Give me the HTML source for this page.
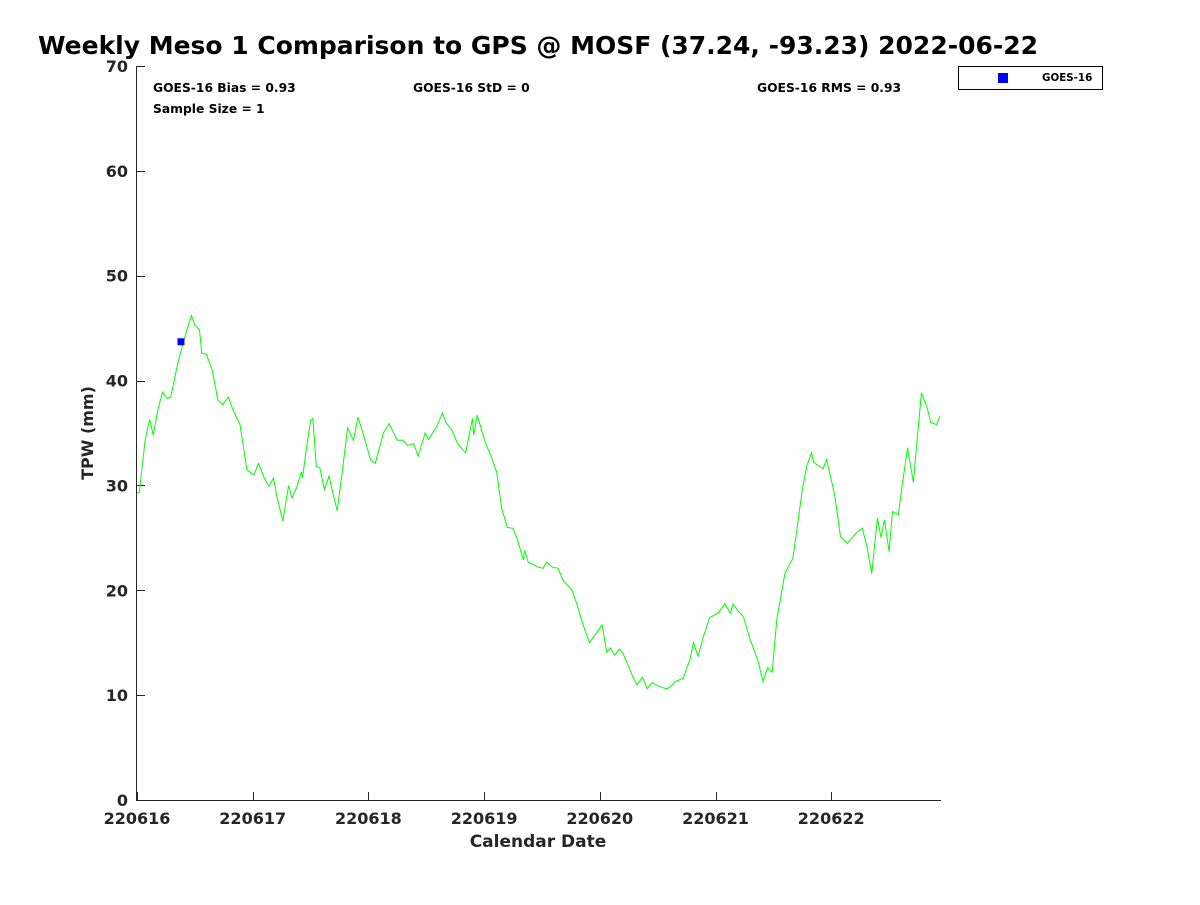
<!DOCTYPE html>
<html><head><meta charset="utf-8"><style>
body{margin:0;background:#fff;}
svg{font-family:"DejaVu Sans","Liberation Sans",sans-serif;}
</style></head><body>
<svg id="chart" width="1200" height="900">
<text x="38" y="54" font-size="25" font-weight="bold" fill="#000" textLength="1000" lengthAdjust="spacingAndGlyphs">Weekly Meso 1 Comparison to GPS @ MOSF (37.24, -93.23) 2022-06-22</text>
<g id="axes"></g>
<g id="series"></g>
<text x="153" y="92" font-size="12.3" font-weight="bold" fill="#000">GOES-16 Bias = 0.93</text>
<text x="413" y="92" font-size="12.3" font-weight="bold" fill="#000">GOES-16 StD = 0</text>
<text x="757" y="92" font-size="12.3" font-weight="bold" fill="#000">GOES-16 RMS = 0.93</text>
<text x="153" y="113" font-size="12.3" font-weight="bold" fill="#000">Sample Size = 1</text>
<g>
<rect x="958.5" y="66.5" width="144" height="23" fill="#fff" stroke="#000" stroke-width="1"/>
<rect x="998" y="73" width="10" height="10" fill="#0000ff"/>
<text x="1042" y="81" font-size="10.3" font-weight="bold" fill="#000">GOES-16</text>
</g>
<text x="538" y="847" font-size="17" font-weight="bold" fill="#262626" text-anchor="middle">Calendar Date</text>
<text transform="translate(93,433) rotate(-90)" font-size="16" font-weight="bold" fill="#262626" text-anchor="middle">TPW (mm)</text>
</svg>
<script>
const xTickLabels=["220616","220617","220618","220619","220620","220621","220622"];
const yTicks=[0,10,20,30,40,50,60,70];
const gpsTime=[0,0.02,0.07,0.11,0.14,0.18,0.22,0.26,0.29,0.35,0.39,0.43,0.47,0.50,0.54,0.56,0.60,0.65,0.70,0.74,0.79,0.83,0.89,0.95,1.01,1.05,1.10,1.14,1.18,1.21,1.26,1.31,1.34,1.38,1.42,1.43,1.46,1.50,1.52,1.55,1.58,1.62,1.66,1.69,1.73,1.78,1.82,1.87,1.91,1.95,2.02,2.06,2.13,2.18,2.25,2.30,2.34,2.39,2.43,2.49,2.52,2.59,2.64,2.67,2.72,2.77,2.84,2.90,2.91,2.94,3.01,3.07,3.11,3.15,3.20,3.25,3.28,3.34,3.35,3.38,3.47,3.51,3.54,3.59,3.64,3.68,3.76,3.81,3.85,3.91,4.02,4.06,4.09,4.13,4.17,4.20,4.28,4.32,4.37,4.41,4.45,4.52,4.58,4.61,4.65,4.72,4.78,4.81,4.85,4.89,4.95,5.02,5.08,5.13,5.15,5.19,5.24,5.30,5.37,5.41,5.45,5.49,5.53,5.60,5.67,5.75,5.79,5.83,5.85,5.90,5.93,5.96,6.03,6.08,6.14,6.18,6.22,6.27,6.31,6.35,6.40,6.43,6.46,6.50,6.53,6.58,6.62,6.66,6.71,6.78,6.83,6.86,6.91,6.94];
const gpsTpw=[29.3,29.3,34.3,36.3,34.8,37.2,38.9,38.3,38.4,41.5,43.2,44.8,46.2,45.3,44.8,42.6,42.5,41.0,38.1,37.7,38.4,37.2,35.8,31.5,31.0,32.1,30.7,29.9,30.7,28.9,26.6,30.0,28.8,29.8,31.3,30.7,33.2,36.2,36.4,31.8,31.7,29.6,30.9,29.4,27.6,31.8,35.5,34.3,36.5,35.1,32.4,32.1,35.0,35.9,34.3,34.3,33.8,34.0,32.8,35.0,34.4,35.6,36.9,36.0,35.3,34.0,33.1,36.4,34.8,36.7,34.1,32.5,31.2,27.9,26.0,25.9,25.1,22.9,23.8,22.7,22.2,22.1,22.7,22.2,22.1,21.0,20.0,18.4,16.9,15.0,16.7,14.1,14.5,13.8,14.4,14.0,11.9,11.0,11.7,10.6,11.2,10.8,10.6,10.8,11.3,11.6,13.4,15.0,13.7,15.4,17.4,17.8,18.7,17.8,18.7,18.1,17.5,15.3,13.2,11.3,12.6,12.2,17.2,21.6,23.1,29.6,31.9,33.1,32.2,31.8,31.6,32.5,29.1,25.1,24.5,25.0,25.5,25.9,24.1,21.6,26.9,25.0,26.7,23.7,27.5,27.2,30.5,33.6,30.3,38.8,37.4,36.0,35.8,36.6];
const goesTime=[0.38];
const goesTpw=[43.7];

const X0=137,DAYPX=115.7,Y0=800,YPX=10.486;
const xs=t=>X0+t*DAYPX;
const ys=v=>Y0-v*YPX;
const NS="http://www.w3.org/2000/svg";
function mk(tag,attrs,parent){const e=document.createElementNS(NS,tag);for(const k in attrs)e.setAttribute(k,attrs[k]);parent.appendChild(e);return e;}
const axes=document.getElementById('axes');
const series=document.getElementById('series');
let l=mk('line',{x1:136.5,y1:66,x2:136.5,y2:800.5,stroke:'#262626','stroke-width':1},axes);


l=mk('line',{x1:136,y1:800.5,x2:941,y2:800.5,stroke:'#262626','stroke-width':1},axes);


yTicks.forEach(v=>{
  const y=Math.round(ys(v))+0.5;
  const t=mk('line',{x1:136,y1:y,x2:145,y2:y,stroke:'#262626'},axes);
  
  
  const tx=mk('text',{x:128,y:ys(v)+6,'font-size':16,'font-weight':'bold',fill:'#262626','text-anchor':'end'},axes);
  tx.textContent=v;
  
  
});
xTickLabels.forEach((lab,i)=>{
  const x=Math.round(xs(i))+0.5;
  const t=mk('line',{x1:x,y1:792,x2:x,y2:800,stroke:'#262626'},axes);
  
  
  const tx=mk('text',{x:xs(i),y:824,'font-size':16,'font-weight':'bold',fill:'#262626','text-anchor':'middle'},axes);
  tx.textContent=lab;
  
  
});
const pts=gpsTime.map((t,i)=>xs(t).toFixed(1)+','+ys(gpsTpw[i]).toFixed(1)).join(' ');
const pl=mk('polyline',{points:pts,fill:'none',stroke:'#00ff00','stroke-width':1},series);


goesTime.forEach((t,i)=>{
  const r=mk('rect',{x:xs(t)-3.5,y:ys(goesTpw[i])-3.5,width:7,height:7,fill:'#0000ff'},series);
  
  
});
</script>
</body></html>
